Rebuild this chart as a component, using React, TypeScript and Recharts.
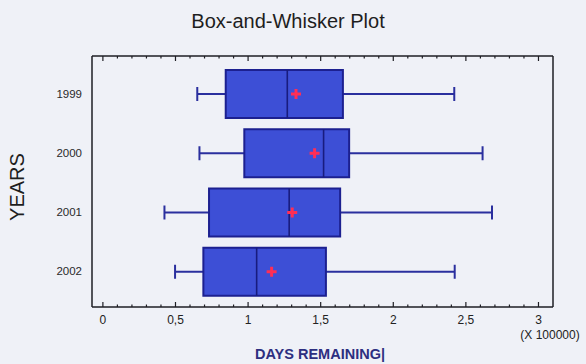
import React from 'react';
import { ComposedChart, Bar, XAxis, YAxis } from 'recharts';

// values, in units of 100000 days
const years = ['1999', '2000', '2001', '2002'];
const lowWhisker = [0.65, 0.665, 0.424, 0.497];
const q1 = [0.846, 0.974, 0.731, 0.692];
const median = [1.27, 1.52, 1.283, 1.059];
const q3 = [1.653, 1.696, 1.634, 1.536];
const highWhisker = [2.42, 2.615, 2.68, 2.423];
const mean = [1.33, 1.458, 1.304, 1.162];

const majorTicks = [0, 0.5, 1, 1.5, 2, 2.5, 3];
const majorTickLabels = ['0', '0,5', '1', '1,5', '2', '2,5', '3'];
const minorStep = 0.1;

const FONT = "Arial, 'Liberation Sans', sans-serif";
const BG = '#eff1f7';
const FRAME = '#1e1e24';

const data = years.map((year, i) => ({
  year,
  low: lowWhisker[i],
  q1: q1[i],
  median: median[i],
  q3: q3[i],
  high: highWhisker[i],
  mean: mean[i],
  range: [lowWhisker[i], highWhisker[i]],
}));

const allTicks: number[] = [];
majorTicks.forEach((m, i) => {
  allTicks.push(m);
  if (i < majorTicks.length - 1) {
    for (let k = 1; k < 5; k++) allTicks.push(Math.round((m + k * minorStep) * 10) / 10);
  }
});

const majorIndex = (v: number) => majorTicks.findIndex(m => Math.abs(m - v) < 1e-6);

const BottomTick = (props: any) => {
  const { x, y, payload } = props;
  const i = majorIndex(payload.value);
  return (
    <g>
      <line x1={x} x2={x} y1={y} y2={y - (i >= 0 ? 5 : 2.5)} stroke={FRAME} strokeWidth={1.2} />
      {i >= 0 && (
        <text x={x} y={y + 17} textAnchor="middle" fontSize={12} fill="#222" fontFamily={FONT}>
          {majorTickLabels[i]}
        </text>
      )}
    </g>
  );
};

const TopTick = (props: any) => {
  const { x, y, payload } = props;
  const i = majorIndex(payload.value);
  return <line x1={x} x2={x} y1={y} y2={y + (i >= 0 ? 5 : 2.5)} stroke={FRAME} strokeWidth={1.2} />;
};

// draws whiskers, box, median and mean from the bar's range (low..high)
const BoxShape = (props: any) => {
  const { x, y, width, height, payload } = props;
  const { low, high } = payload;
  const px = (v: number) => x + ((v - low) / (high - low)) * width;
  const cy = y + height / 2;
  const cap = 7;
  const mx = px(payload.mean);
  return (
    <g>
      <line x1={px(low)} x2={px(payload.q1)} y1={cy} y2={cy} stroke="#2a2f9e" strokeWidth={2} />
      <line x1={px(payload.q3)} x2={px(high)} y1={cy} y2={cy} stroke="#2a2f9e" strokeWidth={2} />
      <line x1={px(low)} x2={px(low)} y1={cy - cap} y2={cy + cap} stroke="#2a2f9e" strokeWidth={2} />
      <line x1={px(high)} x2={px(high)} y1={cy - cap} y2={cy + cap} stroke="#2a2f9e" strokeWidth={2} />
      <rect
        x={px(payload.q1)}
        y={y}
        width={px(payload.q3) - px(payload.q1)}
        height={height}
        fill="#3d4fd6"
        stroke="#1c2090"
        strokeWidth={2}
      />
      <line x1={px(payload.median)} x2={px(payload.median)} y1={y} y2={y + height} stroke="#181c7e" strokeWidth={1.6} />
      <line x1={mx - 5} x2={mx + 5} y1={cy} y2={cy} stroke="#ff2e55" strokeWidth={3} />
      <line x1={mx} x2={mx} y1={cy - 5} y2={cy + 5} stroke="#ff2e55" strokeWidth={3} />
    </g>
  );
};

const App: React.FC = () => {
  return (
    <div style={{ position: 'absolute', left: 0, top: 0, width: 586, height: 364, background: BG, fontFamily: FONT }}>
      <ComposedChart
        width={586}
        height={364}
        data={data}
        layout="vertical"
        margin={{ top: 55, right: 32, bottom: 27, left: 52 }}
        style={{ fontFamily: FONT }}
      >
        <XAxis
          type="number"
          domain={[-0.075, 3.1]}
          allowDataOverflow
          ticks={allTicks}
          interval={0}
          height={30}
          tickSize={0}
          tickMargin={0}
          tickLine={false}
          axisLine={{ stroke: FRAME, strokeWidth: 1.5 }}
          tick={<BottomTick />}
        />
        <XAxis
          xAxisId="top"
          orientation="top"
          type="number"
          domain={[-0.075, 3.1]}
          allowDataOverflow
          ticks={allTicks}
          interval={0}
          height={1}
          tickSize={0}
          tickMargin={0}
          tickLine={false}
          axisLine={{ stroke: FRAME, strokeWidth: 1.5 }}
          tick={<TopTick />}
        />
        <YAxis
          type="category"
          dataKey="year"
          width={40}
          padding={{ top: 8, bottom: 6 }}
          tickSize={0}
          tickMargin={10}
          tickLine={false}
          axisLine={{ stroke: FRAME, strokeWidth: 1.5 }}
          tick={{ fontSize: 11.5, fill: '#2a2a2a', fontFamily: FONT }}
        />
        <YAxis
          yAxisId="right"
          orientation="right"
          type="category"
          dataKey="year"
          width={1}
          padding={{ top: 8, bottom: 6 }}
          tick={false}
          tickLine={false}
          axisLine={{ stroke: FRAME, strokeWidth: 1.5 }}
        />
        <Bar dataKey="range" barSize={48} shape={<BoxShape />} isAnimationActive={false} />
      </ComposedChart>
      <svg width={586} height={364} style={{ position: 'absolute', left: 0, top: 0, pointerEvents: 'none' }}>
        <text x={288} y={28} textAnchor="middle" fontSize={20} fill="#1e1e1e" fontFamily={FONT}>
          Box-and-Whisker Plot
        </text>
        <text x={24} y={187} textAnchor="middle" fontSize={20} fill="#1e1e1e" fontFamily={FONT} transform="rotate(-90 24 187)">
          YEARS
        </text>
        <text x={320} y={359} textAnchor="middle" fontSize={14.5} fontWeight="bold" fill="#2d2f80" fontFamily={FONT}>
          DAYS REMAINING|
        </text>
        <text x={550} y={338.5} textAnchor="middle" fontSize={12} fill="#222" fontFamily={FONT}>
          (X 100000)
        </text>
      </svg>
    </div>
  );
};

export default App;
